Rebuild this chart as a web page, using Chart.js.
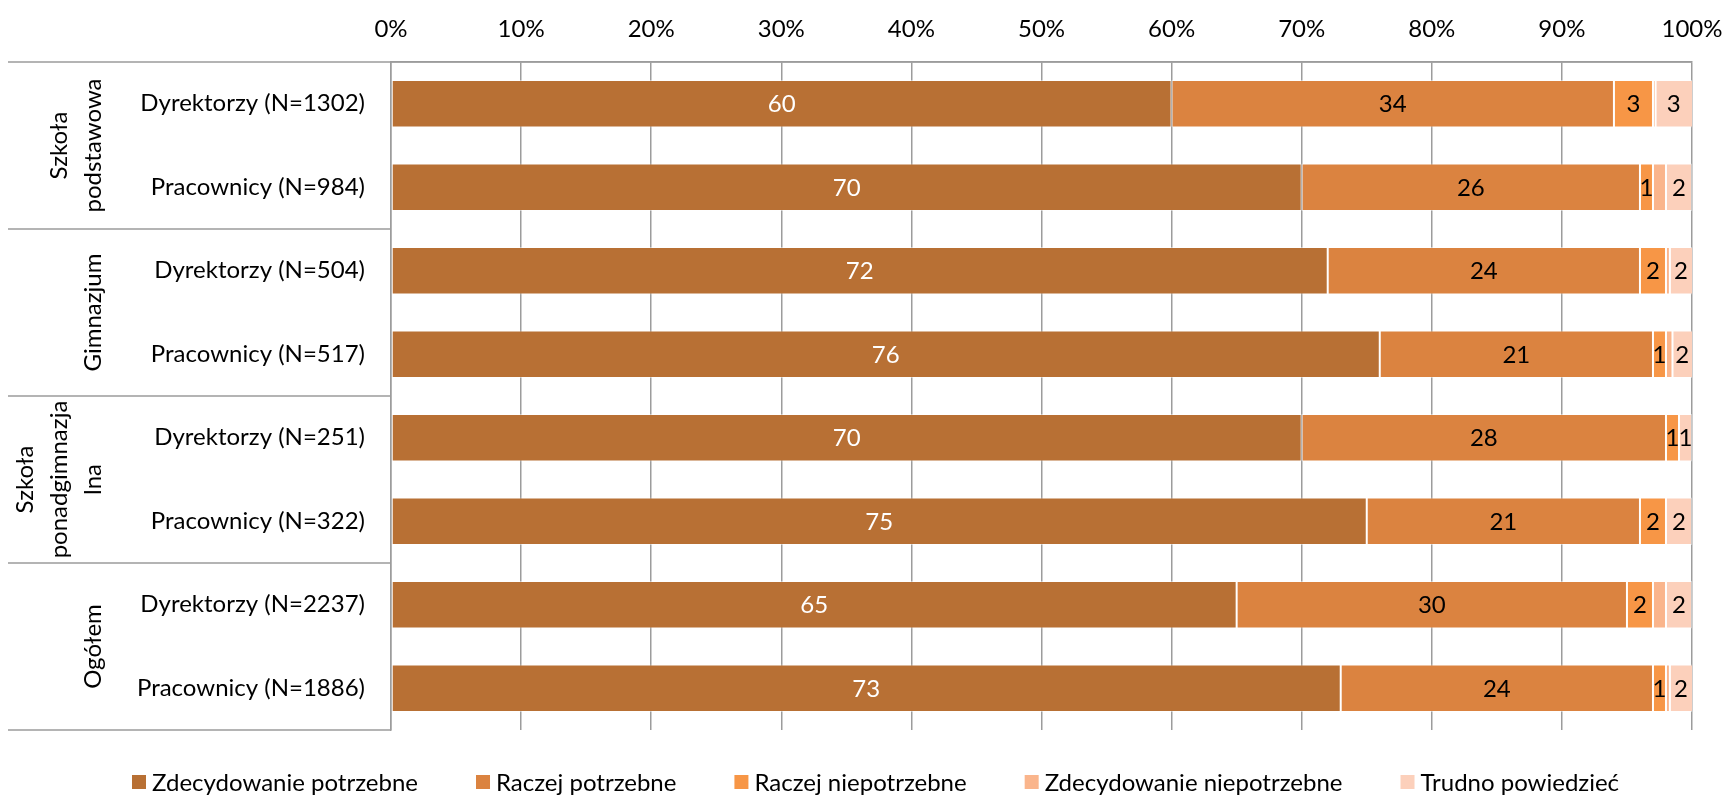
<!DOCTYPE html>
<html lang="pl">
<head>
<meta charset="utf-8">
<title>Ocena potrzeby – dyrektorzy i pracownicy</title>
<script src="https://cdn.jsdelivr.net/npm/chart.js@4.4.1/dist/chart.umd.min.js"></script>
<style>
  html, body { margin: 0; padding: 0; background: #fff; overflow: hidden; }
  #wrap { width: 1723px; height: 798px; position: relative; }
  canvas { display: block; }
</style>
</head>
<body>
<div id="wrap"><canvas id="chart"></canvas></div>
<script>
// rows (top to bottom) and the school level each pair belongs to
var categories = [
  'Dyrektorzy (N=1302)', 'Pracownicy (N=984)',
  'Dyrektorzy (N=504)', 'Pracownicy (N=517)',
  'Dyrektorzy (N=251)', 'Pracownicy (N=322)',
  'Dyrektorzy (N=2237)', 'Pracownicy (N=1886)'
];
var groups = [
  ['Szkoła', 'podstawowa'],
  ['Gimnazjum'],
  ['Szkoła', 'ponadgimnazja', 'lna'],
  ['Ogółem']
];
var groupSizes = [2, 2, 2, 2];

var seriesNames = [
  'Zdecydowanie potrzebne',
  'Raczej potrzebne',
  'Raczej niepotrzebne',
  'Zdecydowanie niepotrzebne',
  'Trudno powiedzieć'
];

// percentages
var zdecydowaniePotrzebne    = [60, 70, 72, 76, 70, 75, 65, 73];
var raczejPotrzebne          = [34, 26, 24, 21, 28, 21, 30, 24];
var raczejNiepotrzebne       = [3, 1, 2, 1, 1, 2, 2, 1];
var zdecydowanieNiepotrzebne = [0.2, 1, 0.3, 0.5, 0, 0, 1, 0.3]; // no labels on these
var trudnoPowiedziec         = [3, 2, 2, 2, 1, 2, 2, 2];

var percentTicks = [0, 10, 20, 30, 40, 50, 60, 70, 80, 90, 100];

var colors = ['#b87034', '#db8340', '#f79646', '#fab58c', '#fcd0bb'];
var labelled = [true, true, true, false, true];
var gridGray = '#9c9c9c';
var FONT = 'Lato, "Open Sans", sans-serif';
var FONT_SIZE = 24;

var values = [zdecydowaniePotrzebne, raczejPotrzebne, raczejNiepotrzebne,
              zdecydowanieNiepotrzebne, trudnoPowiedziec];

var datasets = values.map(function (v, i) {
  return {
    label: seriesNames[i],
    data: v,
    backgroundColor: colors[i],
    borderColor: 'rgba(255,255,255,0.45)',
    borderWidth: 1,
    borderSkipped: false,
    barPercentage: 0.566,
    categoryPercentage: 1
  };
});

// numbers inside the segments, group captions, separators, legend
var decorations = {
  id: 'decorations',
  afterDatasetsDraw: function (chart) {
    var ctx = chart.ctx, area = chart.chartArea;
    ctx.save();
    ctx.font = FONT_SIZE + 'px ' + FONT;
    ctx.textAlign = 'center';
    ctx.textBaseline = 'middle';
    chart.data.datasets.forEach(function (ds, i) {
      if (!labelled[i]) return;
      chart.getDatasetMeta(i).data.forEach(function (bar, j) {
        var v = ds.data[j];
        if (!v) return;
        var x0 = Math.min(bar.base, bar.x), x1 = Math.min(Math.max(bar.base, bar.x), area.right);
        ctx.fillStyle = i === 0 ? '#ffffff' : '#000000';
        ctx.fillText(String(v), (x0 + x1) / 2, bar.y + 1);
      });
    });
    ctx.restore();
  },
  afterDraw: function (chart) {
    var ctx = chart.ctx, area = chart.chartArea, y = chart.scales.y;
    var left = 8;
    ctx.save();
    ctx.strokeStyle = gridGray;
    ctx.lineWidth = 1.5;

    // boundaries between the school levels
    var bounds = [area.top], idx = 0;
    groupSizes.forEach(function (n) {
      idx += n;
      if (idx < categories.length) {
        bounds.push((y.getPixelForTick(idx - 1) + y.getPixelForTick(idx)) / 2);
      }
    });
    bounds.push(area.bottom);

    ctx.beginPath();
    bounds.forEach(function (b, k) {
      ctx.moveTo(left, b);
      ctx.lineTo(k === 0 ? area.right : area.left, b);
    });
    ctx.stroke();

    // rotated level captions, last line nearest the row labels
    ctx.fillStyle = '#000';
    ctx.font = FONT_SIZE + 'px ' + FONT;
    ctx.textAlign = 'center';
    ctx.textBaseline = 'middle';
    groups.forEach(function (lines, g) {
      var cy = (bounds[g] + bounds[g + 1]) / 2;
      lines.forEach(function (txt, k) {
        var cx = 93 - (lines.length - 1 - k) * 34;
        ctx.save();
        ctx.translate(cx, cy);
        ctx.rotate(-Math.PI / 2);
        ctx.fillText(txt, 0, 0);
        ctx.restore();
      });
    });

    // legend
    var lx = 132, ly = 782;
    ctx.textAlign = 'left';
    chart.data.datasets.forEach(function (ds) {
      ctx.fillStyle = ds.backgroundColor;
      ctx.fillRect(lx, ly - 7, 14, 14);
      ctx.fillStyle = '#000';
      ctx.fillText(ds.label, lx + 20, ly + 1);
      lx += 20 + ctx.measureText(ds.label).width + 58;
    });
    ctx.restore();
  }
};

Chart.defaults.font.family = FONT;
Chart.defaults.font.size = FONT_SIZE;
Chart.defaults.color = '#000';

new Chart(document.getElementById('chart'), {
  type: 'bar',
  data: { labels: categories, datasets: datasets },
  options: {
    indexAxis: 'y',
    responsive: true,
    maintainAspectRatio: false,
    animation: false,
    layout: { padding: { left: 8, right: 31, top: 0, bottom: 68 } },
    scales: {
      x: {
        position: 'top',
        stacked: true,
        min: 0,
        max: 100,
        afterBuildTicks: function (s) {
          s.ticks = percentTicks.map(function (v) { return { value: v }; });
        },
        afterFit: function (s) {
          s.height = 62;
          s.paddingLeft = 0;
          s.paddingRight = 0;
        },
        ticks: {
          padding: 18,
          callback: function (v) { return v + '%'; }
        },
        grid: { color: gridGray, lineWidth: 1.5, drawTicks: false },
        border: { display: true, color: gridGray, width: 1.5 }
      },
      y: {
        stacked: true,
        afterFit: function (s) { s.width = 383; },
        ticks: { padding: 26 },
        grid: { display: false, drawTicks: false },
        border: { display: true, color: gridGray, width: 1.5 }
      }
    },
    plugins: {
      legend: { display: false },
      tooltip: { enabled: false }
    }
  },
  plugins: [decorations]
});
</script>
</body>
</html>
